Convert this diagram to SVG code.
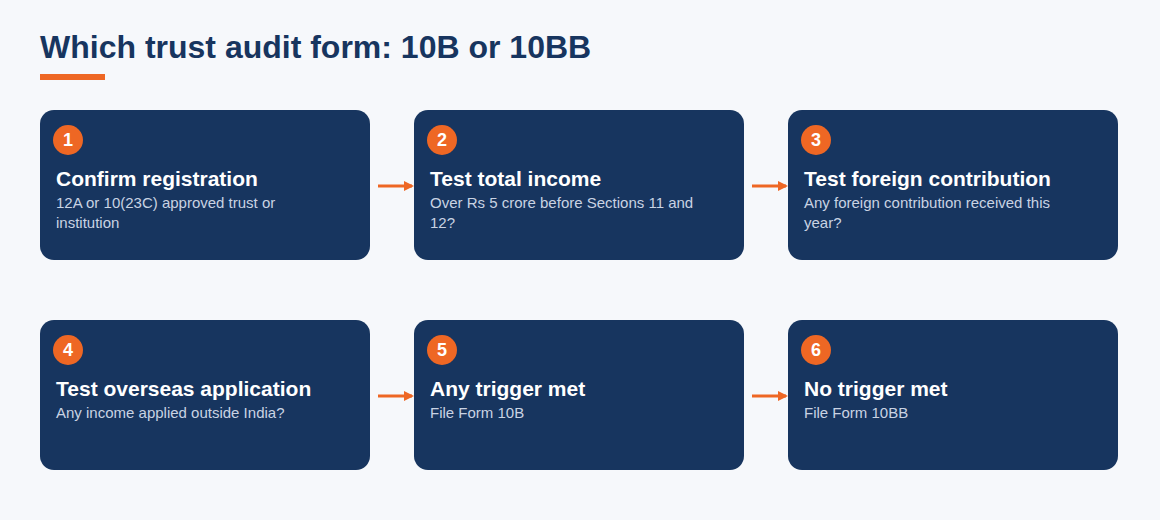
<svg xmlns="http://www.w3.org/2000/svg" width="1160" height="520" viewBox="0 0 1160 520">
<defs>
<style>
.box{fill:#17355f}
.badge{fill:#ee6724}
.num{font:bold 18px "Liberation Sans",Arial,sans-serif;fill:#fff;text-anchor:middle}
.t{font:bold 21px "Liberation Sans",Arial,sans-serif;fill:#fff}
.d{font:15px "Liberation Sans",Arial,sans-serif;fill:#c9d3e3}
.c{stroke:#ee6724;stroke-width:3;fill:none}
</style>
<marker id="ah" markerWidth="10" markerHeight="10" refX="8" refY="5" orient="auto" markerUnits="userSpaceOnUse"><path d="M0,0 L10,5 L0,10 z" fill="#ee6724"/></marker>
</defs>
<rect width="1160" height="520" fill="#f6f8fb"/>
<text x="40" y="58" font-family="Liberation Sans,Arial,sans-serif" font-weight="bold" font-size="32" fill="#17355f">Which trust audit form: 10B or 10BB</text>
<rect x="40" y="74" width="65" height="6" fill="#ee6724"/>
<g id="connectors">
<line class="c" x1="378" y1="186" x2="412" y2="186" marker-end="url(#ah)"/>
<line class="c" x1="752" y1="186" x2="786" y2="186" marker-end="url(#ah)"/>
<line class="c" x1="378" y1="396" x2="412" y2="396" marker-end="url(#ah)"/>
<line class="c" x1="752" y1="396" x2="786" y2="396" marker-end="url(#ah)"/>
</g>
<g id="n1"><rect class="box" x="40" y="110" width="330" height="150" rx="14"/><circle class="badge" cx="68" cy="140" r="15"/><text class="num" x="68" y="146">1</text><text class="t" x="56" y="186">Confirm registration</text><text class="d" x="56" y="208">12A or 10(23C) approved trust or</text><text class="d" x="56" y="228">institution</text></g>
<g id="n2"><rect class="box" x="414" y="110" width="330" height="150" rx="14"/><circle class="badge" cx="442" cy="140" r="15"/><text class="num" x="442" y="146">2</text><text class="t" x="430" y="186">Test total income</text><text class="d" x="430" y="208">Over Rs 5 crore before Sections 11 and</text><text class="d" x="430" y="228">12?</text></g>
<g id="n3"><rect class="box" x="788" y="110" width="330" height="150" rx="14"/><circle class="badge" cx="816" cy="140" r="15"/><text class="num" x="816" y="146">3</text><text class="t" x="804" y="186">Test foreign contribution</text><text class="d" x="804" y="208">Any foreign contribution received this</text><text class="d" x="804" y="228">year?</text></g>
<g id="n4"><rect class="box" x="40" y="320" width="330" height="150" rx="14"/><circle class="badge" cx="68" cy="350" r="15"/><text class="num" x="68" y="356">4</text><text class="t" x="56" y="396">Test overseas application</text><text class="d" x="56" y="418">Any income applied outside India?</text></g>
<g id="n5"><rect class="box" x="414" y="320" width="330" height="150" rx="14"/><circle class="badge" cx="442" cy="350" r="15"/><text class="num" x="442" y="356">5</text><text class="t" x="430" y="396">Any trigger met</text><text class="d" x="430" y="418">File Form 10B</text></g>
<g id="n6"><rect class="box" x="788" y="320" width="330" height="150" rx="14"/><circle class="badge" cx="816" cy="350" r="15"/><text class="num" x="816" y="356">6</text><text class="t" x="804" y="396">No trigger met</text><text class="d" x="804" y="418">File Form 10BB</text></g>
</svg>
